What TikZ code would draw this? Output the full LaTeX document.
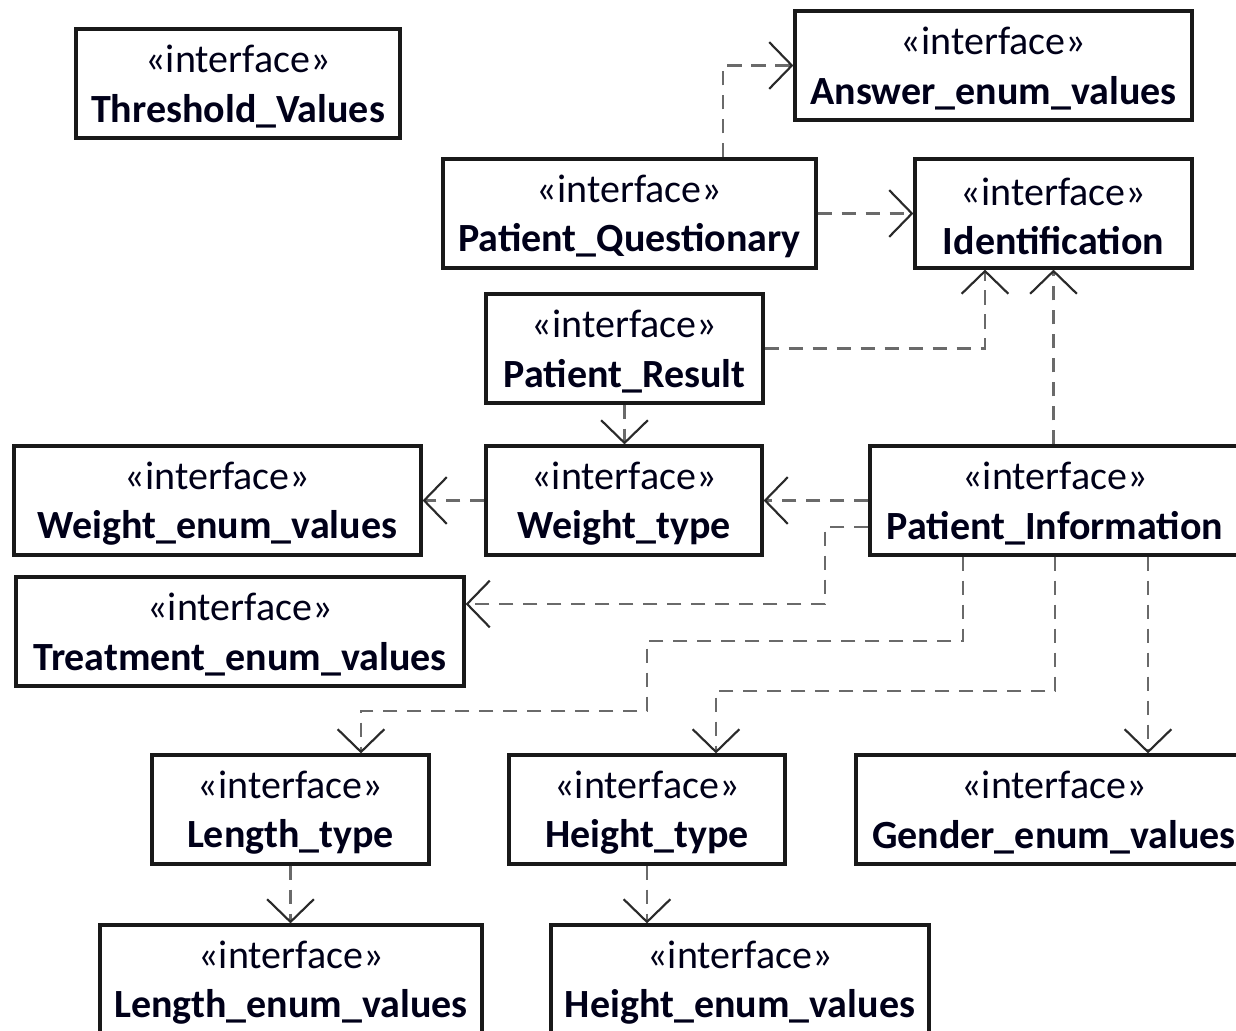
\documentclass[tikz,border=0pt]{standalone}
\usepackage{fontspec}
\setmainfont{Carlito}
\usetikzlibrary{arrows.meta}
\definecolor{depline}{HTML}{6A6A6A}
\definecolor{tipcol}{HTML}{2A2A2A}
\newcommand\ifacebox[5]{%
  \node[iface, minimum width=#4*0.75pt] (#1) at (#2,#3) {\rule{0pt}{25pt}«interface»\\\textbf{#5}};}
\begin{document}
\begin{tikzpicture}[x=0.75pt,y=-0.75pt,
  iface/.style={draw=black!90, line width=2.4pt, fill=white, minimum height=109*0.75pt,
    inner sep=0pt, align=center, text=black!90!blue, font=\fontsize{30}{37}\selectfont},
  dep/.style={draw=depline, line width=2.2pt, dash pattern=on 11pt off 7pt,
    -{Straight Barb[length=17pt, width=35pt, line width=1.6pt, color=tipcol]}}]
\clip (0,0) rectangle (1236,1031);

% interface boxes
\ifacebox{thr}{238}{83.5}{324}{Threshold\_Values}
\ifacebox{ans}{993.5}{65.5}{397}{Answer\_enum\_values}
\ifacebox{pq}{629.5}{213.5}{373}{Patient\_Questionary}
\ifacebox{ident}{1053.5}{213.5}{277}{Identification}
\ifacebox{pr}{624.5}{348.5}{277}{Patient\_Result}
\ifacebox{wev}{217.5}{500.5}{407}{Weight\_enum\_values}
\ifacebox{wt}{624}{500.5}{276}{Weight\_type}
\ifacebox{pi}{1055}{500.5}{370}{Patient\_Information}
\ifacebox{tev}{240}{631.5}{448}{Treatment\_enum\_values}
\ifacebox{lt}{290.5}{809.5}{277}{Length\_type}
\ifacebox{ht}{647}{809.5}{276}{Height\_type}
\ifacebox{gev}{1054}{809.5}{396}{Gender\_enum\_values}
\ifacebox{lev}{291}{979.5}{382}{Length\_enum\_values}
\ifacebox{hev}{740}{979.5}{378}{Height\_enum\_values}

% dependencies
\draw[dep] (pq.north -| 723,0) |- (ans.west);
\draw[dep] (pq.east) -- (ident.west);
\draw[dep] (pr.east) -| (ident.south -| 985,0);
\draw[dep] (pi.north -| ident.south) -- (ident.south);
\draw[dep] (pr.south) -- (pr.south |- wt.north);
\draw[dep] (wt.west) -- (wev.east);
\draw[dep] (pi.west) -- (wt.east);
\draw[dep] (pi.west |- 0,527) -| (825,604) -- (tev.east |- 0,604);
\draw[dep] (pi.south -| 963,0) |- (647,641) |- (361,711) -- (lt.north -| 361,0);
\draw[dep] (pi.south -| 1055,0) |- (716,691) -- (ht.north -| 716,0);
\draw[dep] (pi.south -| 1148,0) -- (gev.north -| 1148,0);
\draw[dep] (lt.south) -- (lt.south |- lev.north);
\draw[dep] (ht.south) -- (ht.south |- hev.north);
\end{tikzpicture}
\end{document}
